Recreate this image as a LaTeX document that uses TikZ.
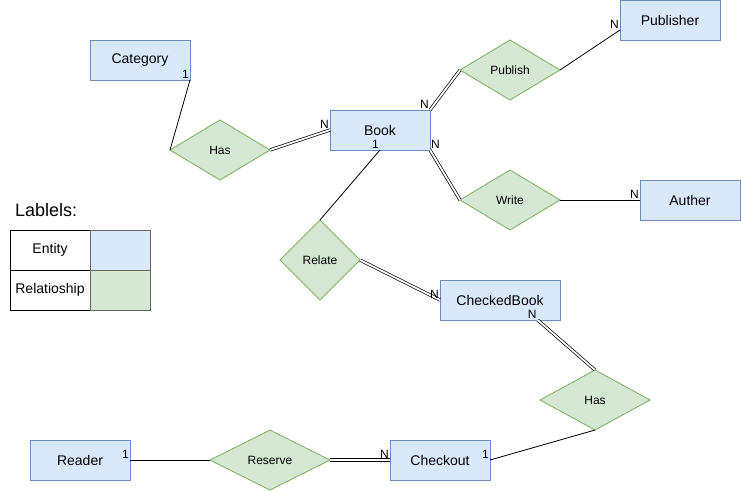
\documentclass[tikz,border=0pt]{standalone}
\usepackage{fontspec}
\setmainfont{Liberation Sans}
\usepackage{tikz}
\usetikzlibrary{positioning,shapes.geometric,calc}
\definecolor{entfill}{HTML}{DAE8FC}
\definecolor{entdraw}{HTML}{6C8EBF}
\definecolor{relfill}{HTML}{D5E8D4}
\definecolor{reldraw}{HTML}{82B366}
\tikzset{
  entity/.style={draw=entdraw,fill=entfill,line width=0.9pt,minimum width=100pt,
            minimum height=40pt,inner sep=0pt,outer sep=0pt,font=\fontsize{14}{16}\selectfont},
  rel/.style={diamond,draw=reldraw,fill=relfill,line width=0.9pt,aspect=1.6,
            inner sep=0pt,outer sep=0pt,font=\fontsize{12}{14}\selectfont},
  one/.style={draw,line width=0.8pt},
  many/.style={draw,line width=0.7pt,double,double distance=1.8pt},
  card/.style={inner sep=1pt,font=\fontsize{12}{13}\selectfont},
  legcell/.style={draw,line width=0.8pt,minimum width=80pt,minimum height=40pt,
            inner sep=0pt,outer sep=0pt,font=\fontsize{14}{16}\selectfont},
  legswatch/.style={draw=black!60,line width=0.8pt,minimum width=60pt,minimum height=40pt,
            inner sep=0pt,outer sep=0pt},
}
\begin{document}
\begin{tikzpicture}[x=1pt,y=-1pt]
  \useasboundingbox (0,0) rectangle (741,491);
  % --- entities ---
  \node[entity] (cat)  at (140,60)  {Category};
  \node[entity] (book) at (380,130) {Book};
  \node[entity] (pub)  at (670,20)  {Publisher};
  \node[entity] (auth) at (690,200) {Auther};
  \node[entity,minimum width=120pt] (chk) at (500,300) {CheckedBook};
  \node[entity] (rdr)  at (80,460)  {Reader};
  \node[entity] (cout) at (440,460) {Checkout};
  % --- relationships ---
  \node[rel,minimum width=100pt,minimum height=60pt] (has1)    at (220,150) {Has};
  \node[rel,minimum width=100pt,minimum height=60pt] (publish) at (510,70)  {Publish};
  \node[rel,minimum width=100pt,minimum height=60pt] (write)   at (510,200) {Write};
  \node[rel,minimum width=80pt,minimum height=80pt]  (relate)  at (320,260) {Relate};
  \node[rel,minimum width=110pt,minimum height=60pt] (has2)    at (595,400) {Has};
  \node[rel,minimum width=120pt,minimum height=60pt] (reserve) at (270,460) {Reserve};
  % --- connectors ---
  \draw[one]  (cat.south east) -- (has1.west);
  \draw[many] (has1.east) -- (book.west);
  \draw[many] (book.north east) -- (publish.west);
  \draw[one]  (publish.east) -- ($(pub.west)!0.5!(pub.south west)$) coordinate (pubin);
  \draw[many] (book.south east) -- (write.west);
  \draw[one]  (write.east) -- (auth.west);
  \draw[one]  (book.south) -- (relate.north);
  \draw[many] (relate.east) -- (chk.west);
  \draw[many] (chk.-28) coordinate (chkout) -- (has2.north);
  \draw[one]  (has2.south) -- (cout.east);
  \draw[one]  (rdr.east) -- (reserve.west);
  \draw[many] (reserve.east) -- (cout.west);
  % --- cardinalities ---
  \node[card,anchor=south east] (c1) at (cat.south east) {1};
  \node[card,anchor=south east] (c2) at (book.west) {N};
  \node[card,anchor=south east] (c3) at (book.north east) {N};
  \node[card,anchor=south west] (c4) at (book.south east) {N};
  \node[card,anchor=south east] (c5) at (book.south) {1};
  \node[card,anchor=south east] (c6) at (pubin) {N};
  \node[card,anchor=south east] (c7) at (auth.west) {N};
  \node[card,anchor=south east] (c8) at (chk.west) {N};
  \node[card,anchor=south east] (c9) at (chkout) {N};
  \node[card,anchor=south east] (c10) at (cout.east) {1};
  \node[card,anchor=south east] (c11) at (rdr.east) {1};
  \node[card,anchor=south east] (c12) at (cout.west) {N};
  % --- legend ---
  \node[anchor=west,inner sep=0pt,font=\fontsize{18}{20}\selectfont] (legtitle) at (15,210) {Lablels:};
  \node[legcell] (lent) at (50,250) {Entity};
  \node[legcell] (lrel) at (50,290) {Relatioship};
  \node[legswatch,fill=entfill] (sent) at (120,250) {};
  \node[legswatch,fill=relfill] (srel) at (120,290) {};
\end{tikzpicture}
\end{document}
